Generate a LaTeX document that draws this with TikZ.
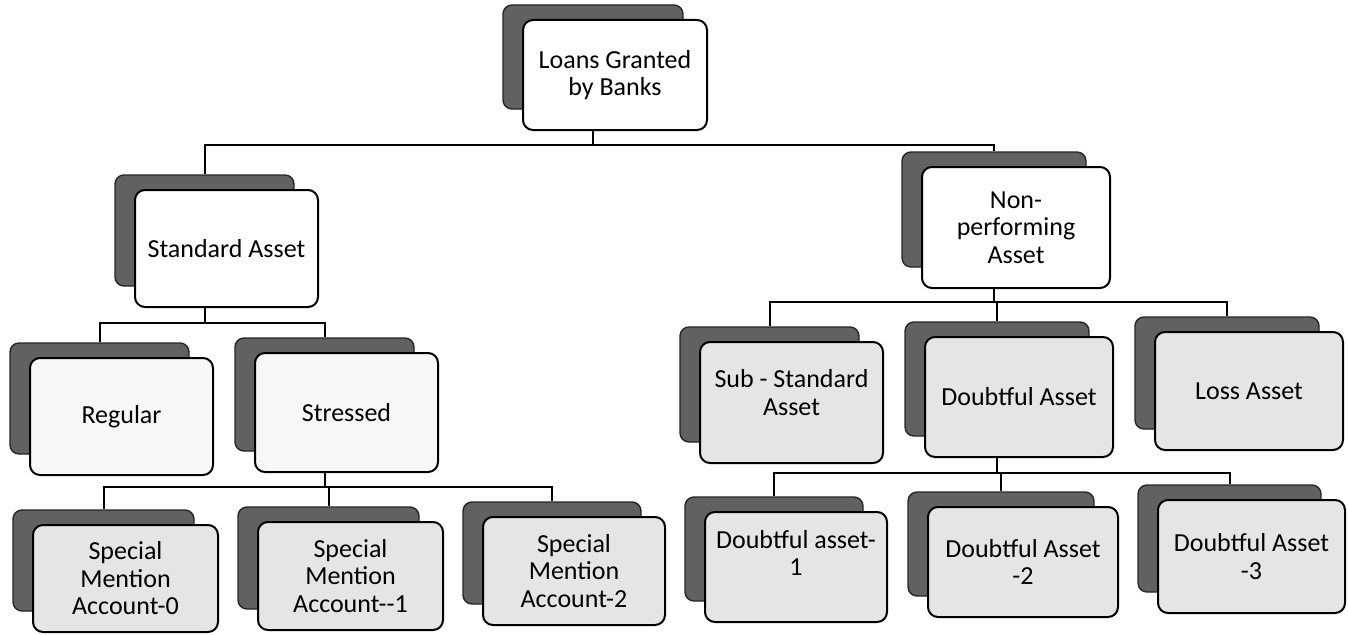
\documentclass[tikz,border=0pt]{standalone}
\usepackage{fontspec}
\setmainfont{Carlito}
\definecolor{speck}{gray}{0.90}
\definecolor{lite}{gray}{0.97}
\definecolor{shade}{gray}{0.38}
\tikzset{
  back/.style={draw=black!85, line width=1.4pt, fill=shade, rounded corners=9pt, inner sep=0pt},
  front/.style={draw=black, line width=2pt, rounded corners=10pt, inner sep=0pt},
  txt/.style={align=center, inner sep=0pt, font=\fontsize{26}{27.5}\selectfont},
  conn/.style={draw=black, line width=2pt},
}
% name, cx, cy, w, h, fill, text, text raise
\newcommand\mycard[8]{%
  \node[back, minimum width=#4pt-4pt, minimum height=#5pt-6pt] (#1B) at (#2-22,#3-18) {};
  \node[front, fill=#6, minimum width=#4pt, minimum height=#5pt] (#1) at (#2,#3) {};
  \node[txt] (#1T) at ([yshift=#8pt]#1.center) {#7};
}
\begin{document}
\begin{tikzpicture}[x=1pt,y=-1pt]
\useasboundingbox (0,0) rectangle (1348,634);
\mycard{loans}{615}{75}{184}{110}{white}{Loans Granted\\by Banks}{0}
\mycard{std}{226.5}{248.5}{183}{117}{white}{Standard Asset}{0}
\mycard{npa}{1016}{227.5}{188}{121}{white}{Non-\\performing\\Asset}{0}
\mycard{reg}{121.5}{416.5}{183}{117}{lite}{Regular}{0}
\mycard{str}{346.5}{412.5}{183}{119}{lite}{Stressed}{0}
\mycard{sub}{791.5}{402.5}{183}{121}{speck}{Sub - Standard\\Asset}{10}
\mycard{dbt}{1019}{397}{188}{120}{speck}{Doubtful Asset}{0}
\mycard{loss}{1249}{391}{188}{118}{speck}{Loss Asset}{0}
\mycard{smaA}{125.5}{578.5}{185}{107}{speck}{Special\\Mention\\Account-0}{0}
\mycard{smaB}{350.5}{576}{185}{108}{speck}{Special\\Mention\\Account-{}-1}{0}
\mycard{smaC}{574}{571}{182}{108}{speck}{Special\\Mention\\Account-2}{0}
\mycard{daA}{796}{567}{182}{110}{speck}{Doubtful asset-\\1}{14}
\mycard{daB}{1023}{562}{190}{110}{speck}{Doubtful Asset\\-2}{0}
\mycard{daC}{1251.5}{556.5}{187}{113}{speck}{Doubtful Asset\\-3}{0}
\coordinate (b0) at (0,145);
\coordinate (b1) at (0,323);
\coordinate (b2) at (0,302);
\coordinate (b3) at (0,487);
\coordinate (b4) at (0,473);
% level 1
\draw[conn] (loans.south -| loansB.center) -- (b0 -| loansB.center) -| (stdB.north);
\draw[conn] (b0 -| loansB.center) -| (npaB.north);
% standard asset
\draw[conn] (std.south -| stdB.center) -- (b1 -| stdB.center) -| (regB.north);
\draw[conn] (b1 -| stdB.center) -| (strB.north);
% npa
\draw[conn] (npa.south -| npaB.center) -- (b2 -| npaB.center) -| (subB.north);
\draw[conn] (b2 -| npaB.center) -| (dbtB.north);
\draw[conn] (b2 -| npaB.center) -| (lossB.north);
% stressed
\draw[conn] (str.south -| strB.center) -- (b3 -| strB.center) -| (smaAB.north);
\draw[conn] (b3 -| strB.center) -| (smaBB.north);
\draw[conn] (b3 -| strB.center) -| (smaCB.north);
% doubtful
\draw[conn] (dbt.south -| dbtB.center) -- (b4 -| dbtB.center) -| (daAB.north);
\draw[conn] (b4 -| dbtB.center) -| (daBB.north);
\draw[conn] (b4 -| dbtB.center) -| (daCB.north);
\end{tikzpicture}
\end{document}
